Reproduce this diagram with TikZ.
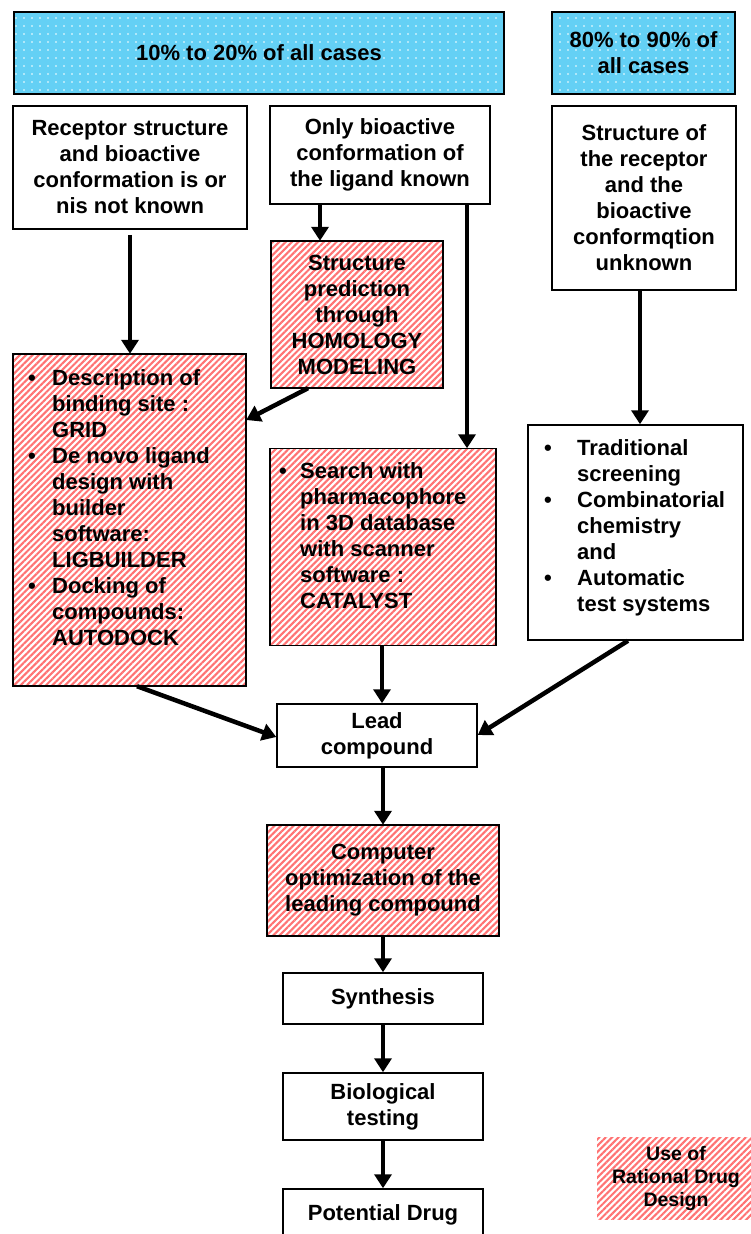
\documentclass[tikz,border=0pt]{standalone}
\usepackage{fontspec}
\setmainfont{Liberation Sans}
\usetikzlibrary{arrows.meta,patterns.meta}
\definecolor{hatchred}{RGB}{255,115,115}
\definecolor{skyfill}{RGB}{100,208,245}
\begin{document}
\begin{tikzpicture}[x=1pt,y=-1pt,
  font=\fontsize{22}{26}\selectfont\bfseries,
  box/.style={draw=black, line width=1.5pt, fill=white, inner sep=0pt, align=center},
  hatchfill/.style={fill=white, inner sep=0pt, align=center,
    postaction={pattern={Lines[angle=45,distance=4.5pt,line width=2.1pt]}, pattern color=hatchred}},
  hatchbox/.style={hatchfill, postaction={draw=black, line width=1.5pt}},
  skybox/.style={fill=skyfill, inner sep=0pt, align=center,
    postaction={pattern={Dots[radius=0.9pt,distance=8pt]}, pattern color=white},
    postaction={draw=black, line width=1.5pt}},
  arr/.style={line width=4.5pt, -{Triangle[length=14pt,width=17pt]}},
  txt/.style={anchor=base west, inner sep=0pt},
]
\useasboundingbox (0,0) rectangle (751,1234);
\clip (0,0) rectangle (751,1234);

% top banners
\node[skybox, minimum width=490pt, minimum height=82pt] (top1) at (259,53) {10\% to 20\% of all cases};
\node[skybox, minimum width=183pt, minimum height=82pt] (top2) at (643.5,53) {80\% to 90\% of\\all cases};

% situation boxes
\node[box, minimum width=234pt, minimum height=123pt] (rec) at (130,167.5)
  {Receptor structure\\and bioactive\\conformation is or\\nis not known};
\node[box, minimum width=220pt, minimum height=98pt] (only) at (380,155)
  {Only bioactive\\conformation of\\the ligand known};
\node[box, minimum width=184pt, minimum height=184pt] (struct) at (644,198)
  {Structure of\\the receptor\\and the\\bioactive\\conformqtion\\unknown};

\node[hatchbox, minimum width=172pt, minimum height=147pt] (homol) at (357,314.5)
  {Structure\\prediction\\through\\HOMOLOGY\\MODELING};

% method boxes
\node[hatchbox, minimum width=233pt, minimum height=332pt] (desc) at (129.5,520) {};
\node[txt] (descT) at (28,385) {\begin{tabular}[t]{@{}p{24pt}@{}l@{}}
\textbullet & Description of\\ & binding site :\\ & GRID\\
\textbullet & De novo ligand\\ & design with\\ & builder\\ & software:\\ & LIGBUILDER\\
\textbullet & Docking of\\ & compounds:\\ & AUTODOCK
\end{tabular}};

\node[hatchbox, minimum width=226pt, minimum height=197pt] (search) at (383,547) {};
\node[txt] (searchT) at (279,478) {\begin{tabular}[t]{@{}p{21pt}@{}l@{}}
\textbullet & Search with\\ & pharmacophore\\ & in 3D database\\ & with scanner\\ & software :\\ & CATALYST
\end{tabular}};

\node[box, minimum width=215pt, minimum height=215pt] (trad) at (635.5,532.5) {};
\node[txt] (tradT) at (544,455) {\begin{tabular}[t]{@{}p{33pt}@{}l@{}}
\textbullet & Traditional\\ & screening\\
\textbullet & Combinatorial\\ & chemistry\\ & and\\
\textbullet & Automatic\\ & test systems
\end{tabular}};

% main chain
\node[box, minimum width=200pt, minimum height=63pt] (lead) at (377,735.5) {Lead\\compound};
\node[hatchbox, minimum width=232pt, minimum height=111pt] (comp) at (383,880.5)
  {Computer\\optimization of the\\leading compound};
\node[box, minimum width=200pt, minimum height=51pt] (synth) at (383,998.5) {Synthesis};
\node[box, minimum width=200pt, minimum height=67pt] (bio) at (383,1106.5) {Biological\\testing};
\node[box, minimum width=200pt, minimum height=51pt] (pd) at (383,1214.5) {Potential Drug};

% legend
\node[hatchfill, minimum width=158pt, minimum height=82pt,
  font=\fontsize{19.5}{23}\selectfont\bfseries] (legend) at (676,1178)
  {Use of\\Rational Drug\\Design};

% connectors
\draw[arr] ([yshift=-5pt]rec.south) -- (rec.south |- desc.north);
\draw[arr] ([xshift=-60pt]only.south) -- ([xshift=-37pt]homol.north);
\draw[arr] ([xshift=-49pt]homol.south) -- ([yshift=100pt]desc.east);
\draw[arr] ([xshift=87pt]only.south) -- ([xshift=84pt]search.north);
\draw[arr] ([xshift=-4pt]struct.south) -- ([xshift=4.5pt]trad.north);
\draw[arr] ([xshift=7.5pt]desc.south) -- ([yshift=-1.5pt]lead.west);
\draw[arr] ([xshift=-1pt]search.south) -- ([xshift=5pt]lead.north);
\draw[arr] ([xshift=-7.5pt]trad.south) -- ([yshift=0.5pt]lead.east);
\draw[arr] ([xshift=6pt]lead.south) -- (comp.north);
\draw[arr] (comp.south) -- (synth.north);
\draw[arr] (synth.south) -- (bio.north);
\draw[arr] (bio.south) -- (bio.south |- pd.north);
\end{tikzpicture}
\end{document}
